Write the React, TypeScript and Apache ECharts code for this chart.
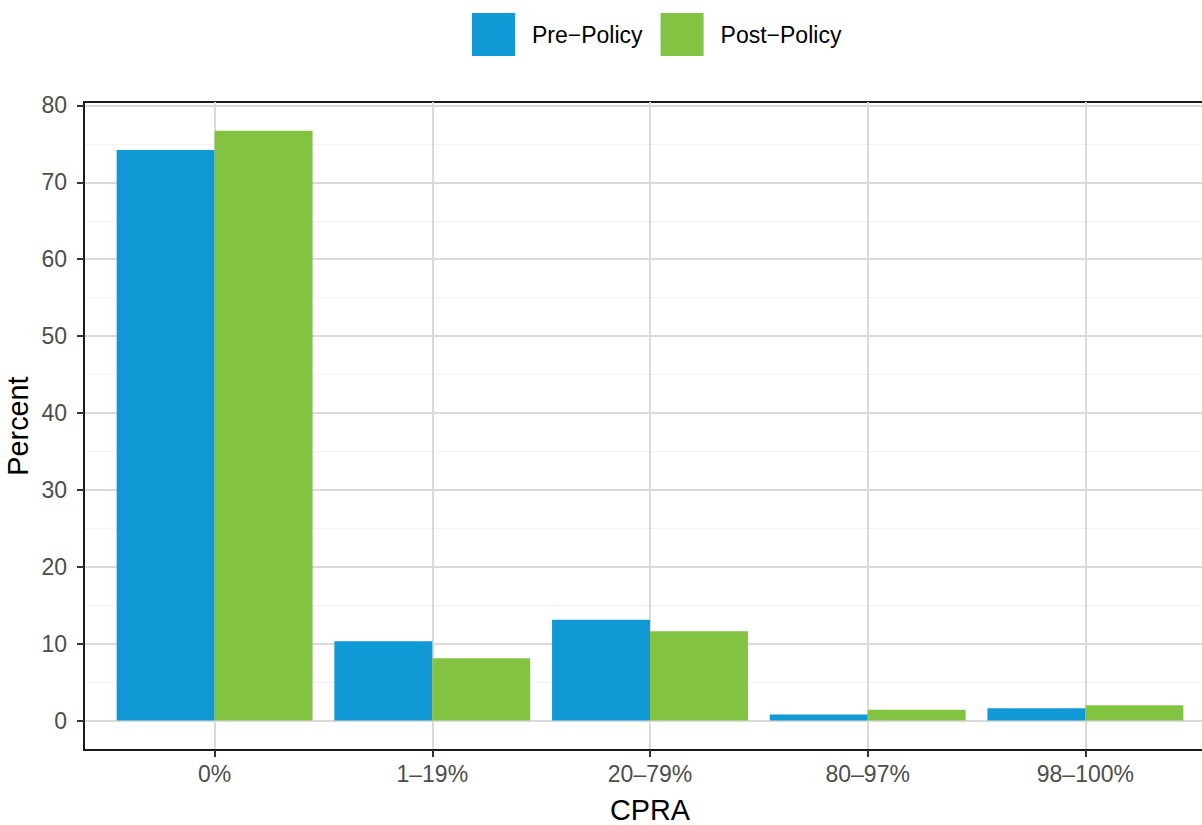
import React, { useEffect, useRef } from 'react';
import * as echarts from 'echarts';

const categories = ['0%', '1–19%', '20–79%', '80–97%', '98–100%'];
const seriesNames = ['Pre−Policy', 'Post−Policy'];
const preValues = [74.2, 10.3, 13.1, 0.8, 1.6];
const postValues = [76.7, 8.1, 11.6, 1.4, 2.0];
const yTicks = [0, 10, 20, 30, 40, 50, 60, 70, 80];
const yMinorTicks = [5, 15, 25, 35, 45, 55, 65, 75];
const xTicks = categories.map((_, i) => i);

const FONT = '"Liberation Sans", Arial, Helvetica, sans-serif';
const Y_MIN = -3.83;
const Y_MAX = 80.45;
const X_MIN = -0.6;
const X_MAX = categories.length - 1 + 0.6;

export default function App() {
  const ref = useRef<HTMLDivElement>(null);
  useEffect(() => {
    const chart = echarts.init(ref.current as HTMLDivElement, null, { renderer: 'svg' });
    const axisLineStyle = { color: '#1a1a1a', width: 2 };
    const option: any = {
      animation: false,
      textStyle: { fontFamily: FONT },
      legend: {
        left: 472,
        top: 13,
        padding: 0,
        itemWidth: 43,
        itemHeight: 43,
        itemGap: 18,
        icon: 'rect',
        data: seriesNames,
        textStyle: { fontSize: 23, color: '#000', fontFamily: FONT, padding: [0, 0, 0, 12] },
      },
      grid: {
        left: 84,
        right: -14,
        top: 102,
        bottom: 75,
        show: true,
        borderColor: '#1a1a1a',
        borderWidth: 2,
        containLabel: false,
        outerBoundsMode: 'none',
      },
      xAxis: {
        type: 'value',
        min: X_MIN,
        max: X_MAX,
        axisLine: { show: true, onZero: false, lineStyle: axisLineStyle },
        axisTick: { show: true, customValues: xTicks, length: 7, lineStyle: { color: '#333', width: 2 } },
        axisLabel: {
          customValues: xTicks,
          formatter: (v: number) => categories[Math.round(v)] ?? '',
          color: '#4d4d4d',
          fontSize: 23,
          margin: 12,
          fontFamily: FONT,
        },
        splitLine: { show: true, lineStyle: { color: '#dadada', width: 2 } },
        name: 'CPRA',
        nameLocation: 'middle',
        nameGap: 45,
        nameMoveOverlap: false,
        nameTextStyle: { fontSize: 28.8, color: '#000', fontFamily: FONT },
      },
      yAxis: [
        {
          type: 'value',
          min: Y_MIN,
          max: Y_MAX,
          position: 'left',
          axisLine: { show: true, onZero: false, lineStyle: axisLineStyle },
          axisTick: { show: true, customValues: yTicks, length: 7, lineStyle: { color: '#333', width: 2 } },
          axisLabel: { customValues: yTicks, color: '#4d4d4d', fontSize: 23, margin: 17, fontFamily: FONT },
          splitLine: { show: true, lineStyle: { color: '#dadada', width: 2 } },
          name: 'Percent',
          nameLocation: 'middle',
          nameGap: 52,
          nameMoveOverlap: false,
          nameTextStyle: { fontSize: 28.8, color: '#000', fontFamily: FONT },
        },
        {
          type: 'value',
          min: Y_MIN,
          max: Y_MAX,
          position: 'left',
          axisLine: { show: false, onZero: false },
          axisTick: { show: false, customValues: yMinorTicks },
          axisLabel: { show: false, customValues: yMinorTicks },
          splitLine: { show: true, lineStyle: { color: '#f2f2f2', width: 1 } },
        },
      ],
      series: [
        {
          name: seriesNames[0],
          type: 'bar',
          data: preValues.map((v, i) => [xTicks[i], v]),
          barWidth: '45%',
          barGap: '0%',
          itemStyle: { color: '#1199d6' },
        },
        {
          name: seriesNames[1],
          type: 'bar',
          data: postValues.map((v, i) => [xTicks[i], v]),
          barWidth: '45%',
          barGap: '0%',
          itemStyle: { color: '#82c341' },
        },
      ],
    };
    chart.setOption(option);
    return () => {
      chart.dispose();
    };
  }, []);
  return (
    <div
      ref={ref}
      style={{ position: 'fixed', left: 0, top: 0, width: 1202, height: 825, background: '#fff' }}
    />
  );
}
